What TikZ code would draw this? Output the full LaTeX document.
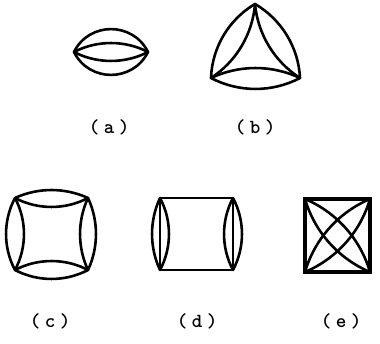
\documentclass[tikz,border=0pt]{standalone}
\usepackage{fontspec}
\usetikzlibrary{calc}
\newcommand\lensarc[5]{%
  \pgfmathsetmacro\la{veclen(#3-#1,#4-#2)/2}%
  \pgfmathsetmacro\lth{2*atan(#5/\la)}%
  \pgfmathsetmacro\llo{0.8514/(cos(\lth/2)^2)}%
  \draw[curve] (#1,#2) to[bend left=\lth, looseness=\llo] (#3,#4);}
\newcommand\spl[1]{(\hspace{4.5pt}#1\hspace{4.5pt})}
\tikzset{
  curve/.style={line width=2.6pt, line join=round, line cap=round},
  lbl/.style={font=\ttfamily\bfseries\fontsize{20}{22}\selectfont, inner sep=0pt}
}
\begin{document}
\begin{tikzpicture}[x=1pt,y=-1pt]
\useasboundingbox (0,0) rectangle (380,344);
% (a)
\lensarc{74}{52}{148}{52}{23}
\lensarc{74}{52}{148}{52}{-23}
\lensarc{74}{52}{148}{52}{9}
\lensarc{74}{52}{148}{52}{-9}
% (b)
\lensarc{255}{4}{211}{78}{10}
\lensarc{255}{4}{211}{78}{-11}
\lensarc{211}{78}{300}{78}{10}
\lensarc{211}{78}{300}{78}{-11}
\lensarc{300}{78}{255}{4}{10}
\lensarc{300}{78}{255}{4}{-11}
% (c)
\lensarc{15}{198}{15}{270}{9}
\lensarc{15}{198}{15}{270}{-9}
\lensarc{15}{270}{88}{270}{9}
\lensarc{15}{270}{88}{270}{-9}
\lensarc{88}{270}{88}{198}{8}
\lensarc{88}{270}{88}{198}{-8}
\lensarc{88}{198}{15}{198}{9}
\lensarc{88}{198}{15}{198}{-8}
% (d)
\draw[curve] (160,198) rectangle (233,270);
\lensarc{160}{198}{160}{270}{9}
\lensarc{160}{198}{160}{270}{-8}
\lensarc{233}{270}{233}{198}{9}
\lensarc{233}{270}{233}{198}{-9}
% (e)
\draw[curve, line width=3.4pt, line join=miter] (305,199) rectangle (370,272);
\lensarc{305}{199}{370}{272}{11}
\lensarc{305}{199}{370}{272}{-11}
\lensarc{370}{199}{305}{272}{11}
\lensarc{370}{199}{305}{272}{-11}
% labels
\node[lbl] (la) at (109,127) {\spl{a}};
\node[lbl] (lb) at (255,127) {\spl{b}};
\node[lbl] (lc) at (50,321) {\spl{c}};
\node[lbl] (ld) at (197,321) {\spl{d}};
\node[lbl] (le) at (341,321) {\spl{e}};
\end{tikzpicture}
\end{document}
